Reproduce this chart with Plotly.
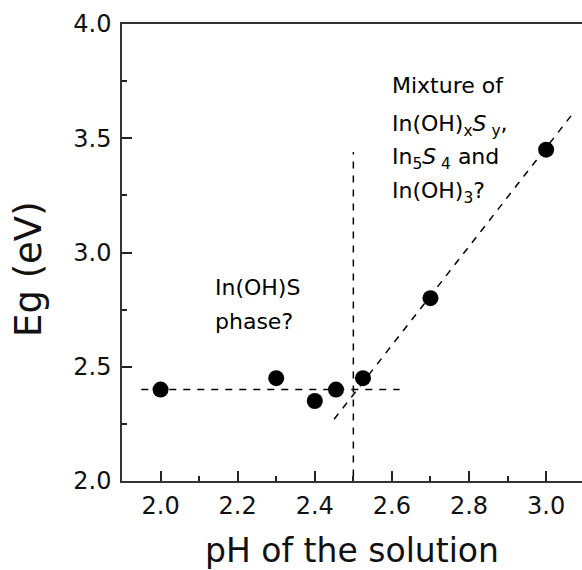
import plotly.graph_objects as go

# Data
ph = [2.0, 2.3, 2.4, 2.455, 2.525, 2.7, 3.0]
eg = [2.40, 2.45, 2.35, 2.40, 2.45, 2.80, 3.45]

# Guide lines
h_x = [1.95, 2.62]
h_y = [2.40, 2.40]
v_x = [2.50, 2.50]
v_y = [2.02, 3.44]
d_x = [2.45, 3.07]
d_y = [2.27, 3.61]

x_ticks = [2.0, 2.2, 2.4, 2.6, 2.8, 3.0]
y_ticks = [2.0, 2.5, 3.0, 3.5, 4.0]

FONT = "DejaVu Sans, Verdana, sans-serif"
dash_line = dict(color="black", width=1.5, dash="7px,7px")

W, H = 582, 570
ML, MT, MR, MB = 122, 24, 0, 89
PW, PH = W - ML - MR, H - MT - MB

fig = go.Figure()
fig.add_trace(go.Scatter(x=h_x, y=h_y, mode="lines", line=dash_line, hoverinfo="skip"))
fig.add_trace(go.Scatter(x=v_x, y=v_y, mode="lines", line=dash_line, hoverinfo="skip"))
fig.add_trace(go.Scatter(x=d_x, y=d_y, mode="lines", line=dash_line, hoverinfo="skip"))
fig.add_trace(go.Scatter(x=ph, y=eg, mode="markers",
                         marker=dict(color="black", size=16, line=dict(width=0))))

ann_font = dict(family=FONT, size=22, color="black")
notes = [
    (2.136, 2.849, "In(OH)S"),
    (2.136, 2.696, "phase?"),
    (2.594, 3.733, "Mixture of"),
    (2.594, 3.555, "In(OH)<sub>x</sub><i>S</i><sub> y</sub>,"),
    (2.594, 3.410, "In<sub>5</sub><i>S</i><sub> 4</sub> and"),
    (2.594, 3.262, "In(OH)<sub>3</sub>?"),
]
for x, y, t in notes:
    fig.add_annotation(x=x, y=y, xref="x", yref="y", text=t, showarrow=False,
                       xanchor="left", yanchor="middle", font=ann_font)

# y-axis title as annotation (placed slightly below plot centre, as in the reference)
fig.add_annotation(x=(28 - ML) / PW, y=(MT + PH - 269) / PH, xref="paper", yref="paper",
                   text="Eg (eV)", textangle=-90, showarrow=False,
                   xanchor="center", yanchor="middle",
                   font=dict(family=FONT, size=37, color="#111"))

fig.update_layout(
    width=W, height=H,
    margin=dict(l=ML, r=MR, t=MT, b=MB, autoexpand=False),
    paper_bgcolor="white", plot_bgcolor="white",
    showlegend=False,
    font=dict(family=FONT, color="black"),
)
fig.update_xaxes(
    range=[1.9, 3.093], tickvals=x_ticks, ticktext=[f"{v:.1f}" for v in x_ticks],
    ticks="inside", ticklen=10, tickwidth=1.5, tickcolor="#222",
    minor=dict(dtick=0.1, tick0=1.9, ticks="inside", ticklen=5, tickwidth=1.5, tickcolor="#222"),
    showline=True, linecolor="#333", linewidth=1.5, mirror=True,
    showgrid=False, zeroline=False, ticklabelstandoff=2,
    tickfont=dict(size=24, color="#111"),
    title=dict(text="pH of the solution", font=dict(size=33, color="#111"), standoff=20),
)
fig.update_yaxes(
    range=[2.0, 4.0], tickvals=y_ticks, ticktext=[f"{v:.1f}" for v in y_ticks],
    ticks="inside", ticklen=10, tickwidth=1.5, tickcolor="#222",
    minor=dict(dtick=0.25, tick0=2.0, ticks="inside", ticklen=5, tickwidth=1.5, tickcolor="#222"),
    showline=True, linecolor="#333", linewidth=1.5, mirror=False,
    showgrid=False, zeroline=False, ticklabelstandoff=4,
    tickfont=dict(size=24, color="#111"),
)

fig.write_html(
    "out.html",
    config={"displayModeBar": False},
    post_script="document.body.style.margin='0';document.body.style.overflow='hidden';",
)
